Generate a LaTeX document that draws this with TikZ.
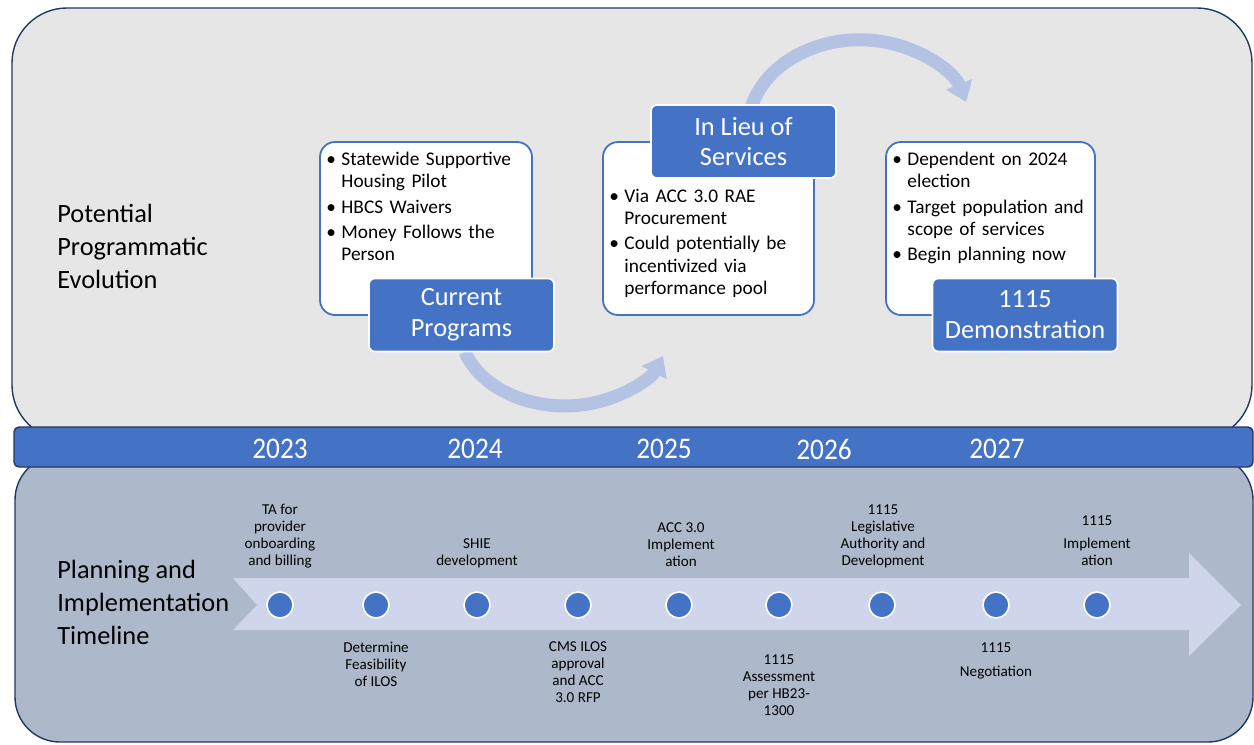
\documentclass[tikz,border=0pt]{standalone}
\usepackage{fontspec}
\setmainfont{Carlito}
\usepackage{graphicx}
\usetikzlibrary{arrows.meta}
\newlength\pxu \setlength\pxu{0.02cm}
\newlength\bulind \setlength\bulind{8.6pt}
\newcommand\bitem[1]{\hangindent=\bulind\hangafter=1\noindent\hbox to\bulind{\textbullet\hfil}#1\par}
\definecolor{blueA}{HTML}{4472C4}
\definecolor{navy}{HTML}{203864}
\definecolor{topgray}{HTML}{E6E6E6}
\definecolor{botgray}{HTML}{ADB9CA}
\definecolor{tlarrowc}{HTML}{CFD5EA}
\definecolor{arcC}{HTML}{B4C2E4}
\begin{document}
\begin{tikzpicture}[x=0.02cm,y=-0.02cm,
  panel/.style={draw=navy, line width=1.4\pxu},
  wbox/.style={draw=blueA, fill=white, line width=1.8\pxu, rounded corners=15\pxu, minimum width=#1, minimum height=173\pxu, inner sep=0pt},
  lbl/.style={draw=white, fill=blueA, line width=1.6\pxu, rounded corners=6\pxu, minimum width=185\pxu, minimum height=73\pxu, text=white, align=center, font=\fontsize{15pt}{17.6pt}\selectfont, inner sep=0pt},
  btext/.style={anchor=north west, inner sep=0pt, text width=200\pxu, align=left, font=\fontsize{11pt}{12.6pt}\selectfont},
  tldot/.style={circle, fill=blueA, draw=white, line width=1.6\pxu, minimum size=26\pxu, inner sep=0pt},
  tltext/.style={align=center, font=\fontsize{8.6pt}{9.7pt}\selectfont, inner sep=0pt},
  yr/.style={text=white, font=\fontsize{15.5pt}{18pt}\selectfont, inner sep=0pt},
  side/.style={anchor=west, align=left, font=\fontsize{15pt}{18.8pt}\selectfont, inner sep=0pt},
  flow/.style={draw=arcC, line width=0.26cm, -{Triangle[width=0.54cm,length=0.38cm]}}
]
\useasboundingbox (0,0) rectangle (1254,744);
% panels
\draw[panel, fill=topgray, rounded corners=55\pxu] (12,8) rectangle (1252,440);
\draw[panel, fill=botgray, rounded corners=45\pxu] (15,455) rectangle (1253,742);
\draw[panel, fill=blueA, rounded corners=5\pxu] (14,427) rectangle (1253,467);
% years
\node[yr] (y23) at (280,449) {\scalebox{1}[1.1]{2023}};
\node[yr] (y24) at (475,449) {\scalebox{1}[1.1]{2024}};
\node[yr] (y25) at (664,449) {\scalebox{1}[1.1]{2025}};
\node[yr] (y26) at (824,449) {\scalebox{1}[1.1]{2026}};
\node[yr] (y27) at (997,449) {\scalebox{1}[1.1]{2027}};
% side labels
\node[side] (potl) at (57,246) {Potential\\Programmatic\\Evolution};
\node[side] (plan) at (57,602) {Planning and\\Implementation\\Timeline};
% flow arcs
\coordinate (a1s) at (465,352);
\coordinate (a2s) at (751,108);
\draw[flow] (a1s) arc[start angle=162, end angle=21, x radius=105, y radius=78];
\draw[flow] (a2s) arc[start angle=194, end angle=342, x radius=112, y radius=90];
% boxes
\node[wbox=212\pxu] (b1) at (426,228.5) {};
\node[wbox=211\pxu] (b2) at (708.5,228.5) {};
\node[wbox=209\pxu] (b3) at (990.5,228.5) {};
\node[btext] (b1t) at (326,152) {\setlength\parskip{1.7pt}\bitem{Statewide Supportive\newline Housing Pilot}\bitem{HBCS Waivers}\bitem{Money Follows the\newline Person}};
\node[btext] (b2t) at (609,189) {\setlength\parskip{1.7pt}\bitem{Via ACC 3.0 RAE\newline Procurement}\bitem{Could potentially be\newline incentivized via\newline performance pool}};
\node[btext] (b3t) at (892,152) {\setlength\parskip{1.7pt}\bitem{Dependent on 2024\newline election}\bitem{Target population and\newline scope of services}\bitem{Begin planning now}};
\node[lbl] (l1) at (461.5,315) {Current\\Programs};
\node[lbl] (l2) at (743.5,141.5) {In Lieu of\\Services};
\node[lbl] (l3) at (1025,315) {1115\\Demonstration};
% timeline arrow
\fill[tlarrowc] (233,578) -- (1189,578) -- (1189,553) -- (1241,605) -- (1189,656) -- (1189,630) -- (233,630) -- (257,605) -- cycle;
\foreach \i/\x in {1/280,2/376,3/477,4/578,5/679,6/779,7/882,8/996,9/1097}
  \node[tldot] (d\i) at (\x,605) {};
\node[tltext] (t1) at (280,536) {TA for\\provider\\onboarding\\and billing};
\node[tltext] (t2) at (376,664) {Determine\\Feasibility\\of ILOS};
\node[tltext] (t3) at (477,553) {SHIE\\development};
\node[tltext] (t4) at (578,672) {CMS ILOS\\approval\\and ACC\\3.0 RFP};
\node[tltext] (t5) at (681,545) {ACC 3.0\\Implement\\ation};
\node[tltext] (t6) at (779,685) {1115\\Assessment\\per HB23-\\1300};
\node[tltext] (t7) at (883,536) {1115\\Legislative\\Authority and\\Development};
\node[tltext] (t8) at (996,661) {1115\\[4pt]Negotiation};
\node[tltext] (t9) at (1097,540.5) {1115\\[3.4pt]Implement\\ation};
\end{tikzpicture}
\end{document}
